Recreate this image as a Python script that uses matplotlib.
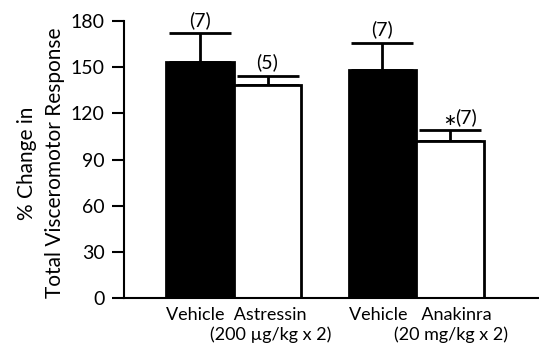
import matplotlib
matplotlib.use("Agg")
import matplotlib.pyplot as plt
from matplotlib.transforms import blended_transform_factory

plt.rcParams['font.family'] = ['Lato', 'DejaVu Sans']

group_names = ["Vehicle  Astressin", "Vehicle   Anakinra"]
group_doses = ["(200 µg/kg x 2)", "(20 mg/kg x 2)"]
values = [153.6, 138.2, 148.4, 102.2]
errors = [18.4, 6.3, 17.3, 7.0]
n_labels = ["(7)", "(5)", "(7)", "(7)"]
significant = [False, False, False, True]
colors = ["black", "white", "black", "white"]
yticks = [0, 30, 60, 90, 120, 150, 180]

positions = [0, 1, 2.7, 3.7]

fig = plt.figure(figsize=(5.39, 3.44), dpi=100)
ax = fig.add_axes([0.230, 0.1337, 0.770, 0.805])

ax.bar(positions, values, width=1.0, color=colors, edgecolor="black", linewidth=2, zorder=2)
ax.errorbar(positions, values, yerr=[[0]*4, errors], fmt="none", ecolor="black",
            elinewidth=2, capsize=22, capthick=2, zorder=1)

for p, v, e, lab, sig in zip(positions, values, errors, n_labels, significant):
    if sig:
        ax.text(p + 0.24, v + e + 8.6, lab, ha="center", va="center", fontsize=14)
        ax.text(p, v + e + 0.5, "*", ha="center", va="center", fontsize=22)
    else:
        ax.text(p, v + e + 8.8, lab, ha="center", va="center", fontsize=14)

ax.set_xlim(-1.126, 5.02)
ax.set_ylim(0, 180)
ax.set_yticks(yticks)
ax.set_xticks([])
ax.tick_params(axis="y", direction="out", length=9, width=1.5, labelsize=14, pad=5)
for s in ["top", "right"]:
    ax.spines[s].set_visible(False)
ax.spines["left"].set_linewidth(1.5)
ax.spines["bottom"].set_linewidth(1.5)

fig.text(41/539, 1 - 163/344, "% Change in\nTotal Visceromotor Response", rotation=90,
         ha="center", va="center", fontsize=15, linespacing=1.45, multialignment="center")

tr = blended_transform_factory(ax.transData, ax.transAxes)
ax.text(0.54, -0.061, group_names[0], transform=tr, ha="center", va="center", fontsize=13)
ax.text(1.04, -0.134, group_doses[0], transform=tr, ha="center", va="center", fontsize=13)
ax.text(3.26, -0.061, group_names[1], transform=tr, ha="center", va="center", fontsize=13)
ax.text(3.72, -0.134, group_doses[1], transform=tr, ha="center", va="center", fontsize=13)

fig.savefig("out.png", dpi=100)
